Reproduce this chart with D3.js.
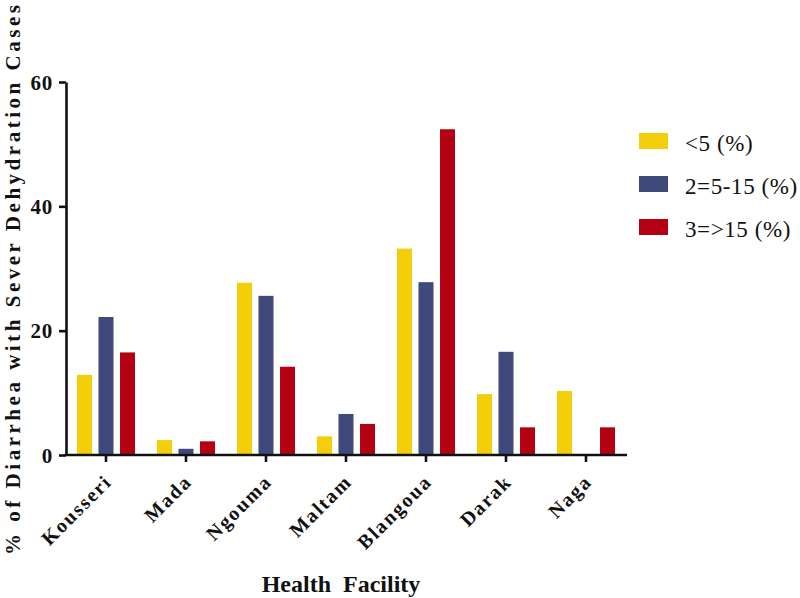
<!DOCTYPE html>
<html>
<head>
<meta charset="utf-8">
<script src="https://cdn.jsdelivr.net/npm/d3@7"></script>
<style>
  html, body { margin: 0; padding: 0; background: #fff; }
  svg { display: block; }
  svg text { font-family: "Liberation Serif", "Times New Roman", Times, "DejaVu Serif", serif !important; }
</style>
</head>
<body>
<svg id="chart" width="800" height="598"></svg>
<script>
const facilities = ["Kousseri", "Mada", "Ngouma", "Maltam", "Blangoua", "Darak", "Naga"];
const seriesNames = ["<5 (%)", "2=5-15 (%)", "3=>15 (%)"];
const seriesColors = ["#f2cf0a", "#404a7a", "#b30013"];
const under5 = [12.9, 2.4, 27.7, 3.0, 33.2, 9.8, 10.3];
const from5to15 = [22.2, 1.0, 25.6, 6.6, 27.8, 16.6, 0];
const over15 = [16.5, 2.2, 14.2, 5.0, 52.4, 4.45, 4.45];
const yTicks = [0, 20, 40, 60];

const seriesValues = [under5, from5to15, over15];
const FONT = "'Liberation Serif', 'Times New Roman', Times, 'DejaVu Serif', serif";

const svg = d3.select("#chart");

const x0 = d3.scaleBand().domain(facilities).range([66, 626]).padding(0);
const x1 = d3.scaleBand().domain(seriesNames).range([11, 69]).paddingInner(0.302).paddingOuter(0);
const y = d3.scaleLinear().domain([0, 60]).range([455, 82]);

// bars
const groups = svg.append("g").selectAll("g")
  .data(facilities)
  .join("g")
  .attr("transform", d => `translate(${x0(d)},0)`);

groups.selectAll("rect")
  .data((d, i) => seriesNames.map((s, j) => ({ s, j, v: seriesValues[j][i] })))
  .join("rect")
  .attr("x", d => x1(d.s))
  .attr("width", x1.bandwidth())
  .attr("y", d => y(d.v))
  .attr("height", d => y(0) - y(d.v))
  .attr("fill", d => seriesColors[d.j]);

// y axis
const yAxis = svg.append("g")
  .attr("transform", "translate(66,0)")
  .call(d3.axisLeft(y).tickValues(yTicks).tickSizeOuter(0).tickSizeInner(7).tickPadding(6));
yAxis.attr("font-family", FONT);
yAxis.select(".domain").attr("stroke", "#111").attr("stroke-width", 2.6);
yAxis.selectAll(".tick line").attr("stroke", "#111").attr("stroke-width", 2.6);
yAxis.selectAll(".tick text")
  .style("font-family", FONT)
  .attr("font-weight", "bold")
  .attr("font-size", 21)
  .attr("letter-spacing", 0.8)
  .attr("fill", "#111")
  .attr("dy", "0.34em");

// x axis
const xAxis = svg.append("g")
  .attr("transform", "translate(0,455)")
  .call(d3.axisBottom(x0).tickSizeOuter(0).tickSizeInner(7).tickFormat(""));
xAxis.select(".domain").attr("stroke", "#111").attr("stroke-width", 2.6).attr("d", "M64.7,0H627");
xAxis.selectAll(".tick line").attr("stroke", "#111").attr("stroke-width", 2.6);

// x tick labels rotated
svg.append("g").selectAll("text")
  .data(facilities)
  .join("text")
  .attr("transform", d => `translate(${x0(d) + x0.bandwidth() / 2 + 7},483) rotate(-45)`)
  .attr("text-anchor", "end")
  .style("font-family", FONT)
  .attr("font-weight", "bold")
  .attr("font-size", 20)
  .attr("letter-spacing", 1.8)
  .attr("fill", "#111")
  .text(d => d);

// x axis title
svg.append("text")
  .attr("x", 341)
  .attr("y", 592)
  .attr("text-anchor", "middle")
  .style("font-family", FONT)
  .attr("font-weight", "bold")
  .attr("font-size", 24)
  .attr("fill", "#111")
  .text("Health\u00a0\u00a0Facility");

// y axis title
svg.append("text")
  .attr("transform", "translate(20,280) rotate(-90)")
  .attr("text-anchor", "middle")
  .style("font-family", FONT)
  .attr("font-weight", "bold")
  .attr("font-size", 21)
  .attr("fill", "#111")
  .attr("textLength", 550)
  .attr("lengthAdjust", "spacing")
  .text("% of Diarrhea with Sever Dehydration Cases");

// legend
const legend = svg.append("g").selectAll("g")
  .data(seriesNames)
  .join("g")
  .attr("transform", (d, i) => `translate(639,${133 + i * 43})`);
legend.append("rect")
  .attr("width", 29)
  .attr("height", 16)
  .attr("fill", (d, i) => seriesColors[i]);
legend.append("text")
  .attr("x", 46)
  .attr("y", 17.5)
  .style("font-family", FONT)
  .attr("font-size", 23)
  .attr("letter-spacing", 0.6)
  .attr("fill", "#111")
  .text(d => d);
</script>
</body>
</html>
